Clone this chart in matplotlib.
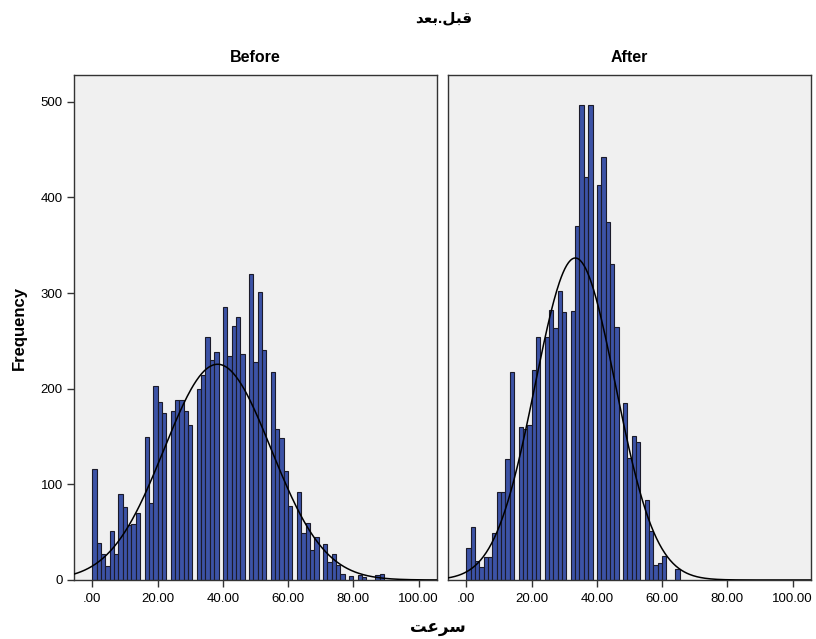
import matplotlib.pyplot as plt
import numpy as np

# 字体：拉丁字符用 Liberation Sans，阿拉伯/波斯字符回退到 DejaVu Sans
plt.rcParams['font.family'] = ['Liberation Sans', 'DejaVu Sans']

# 数据（从图上读取的直方图计数，组距 4/3，从 0 开始）
bin_width = 4 / 3
before_counts = [116, 39, 27, 15, 51, 27, 90, 76, 58, 59, 70, 0,
                 150, 80, 203, 186, 175, 0, 177, 188, 188, 177, 162, 0,
                 200, 214, 254, 230, 238, 0, 285, 234, 266, 275, 236, 0,
                 320, 228, 301, 240, 0, 217, 158, 148, 114, 77, 0,
                 92, 49, 60, 31, 45, 0, 38, 19, 27, 16, 6, 0,
                 4, 0, 5, 3, 0, 0, 5, 6]
after_counts = [33, 55, 20, 14, 24, 24, 49, 92, 92, 126, 217, 0,
                160, 158, 162, 220, 254, 0, 254, 282, 263, 302, 280, 0,
                281, 370, 497, 421, 497, 0, 413, 442, 374, 330, 265, 0,
                185, 128, 151, 144, 0, 84, 51, 16, 18, 25, 0, 0, 12]
# 正态拟合参数
before_mean, before_sd = 38.4, 16.4
after_mean, after_sd = 33.4, 12.3

panel_titles = ['Before', 'After']
x_ticks = [0, 20, 40, 60, 80, 100]
x_tick_labels = ['.00', '20.00', '40.00', '60.00', '80.00', '100.00']
y_ticks = [0, 100, 200, 300, 400, 500]

# 阿拉伯字母的显示形式（视觉顺序）
title_text = '\uFEAA\uFECC\uFE91.\uFEDE\uFE92\uFED7'   # قبل.بعد
xlabel_text = '\uFE96\uFECB\uFEAE\uFEB3'              # سرعت

W, H = 816, 639
fig = plt.figure(figsize=(W / 100, H / 100), dpi=100)


def px_rect(l, t, r, b):
    return [l / W, 1 - b / H, (r - l) / W, (b - t) / H]


ax1 = fig.add_axes(px_rect(74, 75, 437, 580))
ax2 = fig.add_axes(px_rect(448, 75, 811, 580))

bar_color = '#3C53A6'
curve_x = np.linspace(-6, 106, 400)

for ax, counts, mu, sd, title in [(ax1, before_counts, before_mean, before_sd, panel_titles[0]),
                                  (ax2, after_counts, after_mean, after_sd, panel_titles[1])]:
    counts = np.array(counts)
    left = np.arange(len(counts)) * bin_width
    mask = counts > 0
    ax.bar(left[mask], counts[mask], width=bin_width, align='edge',
           color=bar_color, edgecolor='#1b1b2a', linewidth=0.8, zorder=2)

    # 正态曲线：N * 组距 * 密度
    n = counts.sum()
    dens = n * bin_width / (sd * np.sqrt(2 * np.pi)) * np.exp(-0.5 * ((curve_x - mu) / sd) ** 2)
    ax.plot(curve_x, dens, color='black', linewidth=1.1, zorder=3)

    ax.set_xlim(-5.6, 105.6)
    ax.set_ylim(0, 528)
    ax.set_facecolor('#F0F0F0')
    ax.set_xticks(x_ticks)
    ax.set_xticklabels(x_tick_labels, fontsize=9.5)
    ax.tick_params(axis='x', direction='out', length=5, width=1, color='#333333', pad=4)
    for s in ax.spines.values():
        s.set_color('#333333')
        s.set_linewidth(1)
    ax.set_title(title, fontsize=11.5, fontweight='bold', pad=9)

ax1.set_yticks(y_ticks)
ax1.set_yticklabels([str(v) for v in y_ticks], fontsize=9.5)
ax1.tick_params(axis='y', direction='out', length=5, width=1, color='#333333', pad=3)
ax2.set_yticks([])

ax1.set_ylabel('Frequency', fontsize=12, fontweight='bold', labelpad=10)

# 总标题与横轴标签
fig.text(444 / W, 1 - 18 / H, title_text, fontsize=11, fontweight='bold',
         ha='center', va='center')
fig.text(438 / W, 1 - 628 / H, xlabel_text, fontsize=12, fontweight='bold',
         ha='center', va='center')

plt.savefig('out.png', dpi=100, facecolor='white')
